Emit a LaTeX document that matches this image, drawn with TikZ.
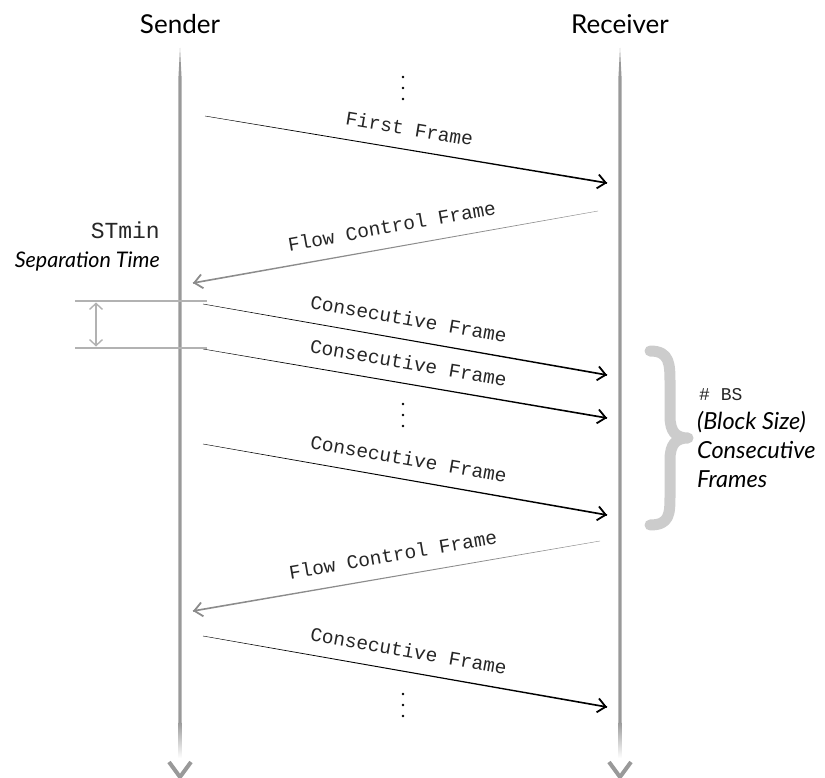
\documentclass[tikz,border=0pt]{standalone}
\usepackage{fontspec}
\setmainfont{Lato}
\setmonofont{Liberation Mono}
\usetikzlibrary{arrows.meta,calc}
\definecolor{lifegray}{gray}{0.6}
\definecolor{fcgray}{gray}{0.55}
\definecolor{sepgray}{gray}{0.7}
\definecolor{bracegray}{gray}{0.8}
\definecolor{monoink}{gray}{0.15}

% tapered message arrow: #1 start, #2 end, #3 colour, #4 label
\newcommand\sendmsg[4]{%
  \fill[#3] ($(#1)!0.2pt!-90:(#2)$) -- ($(#2)!0.85pt!90:(#1)$) -- ($(#2)!0.85pt!-90:(#1)$) -- ($(#1)!0.2pt!90:(#2)$) -- cycle;
  \draw[#3, line width=1.7pt, msgtip] ($(#2)!4pt!(#1)$) -- (#2);
  \path (#1) -- (#2) node[frametxt] {#4};
}
% vertical ellipsis dots centred at (x,y)
\newcommand\vdotsat[2]{%
  \foreach \dy in {-11,0,11} \fill (#1,#2+\dy) circle (1.3pt);
}
% one lifeline: #1 x position, #2 name prefix
\newcommand\lifeline[2]{%
  \coordinate (#2top) at (#1,48);
  \coordinate (#2end) at (#1,777);
  \fill[lifegray] (#2top) -- (#1-1.6,78) -- (#1-1.6,722) -- (#1+1.6,722) -- (#1+1.6,78) -- cycle;
  \shade[top color=lifegray, bottom color=white] (#1-1.6,722) rectangle (#1+1.6,758);
  \draw[lifegray, line width=4pt] (#1-11,762) -- (#2end) -- (#1+11,762);
}

\begin{document}
\begin{tikzpicture}[x=1pt, y=-1pt,
  head/.style={font=\fontsize{26}{30}\selectfont, inner sep=0pt},
  frametxt/.style={font=\ttfamily\fontsize{19.5}{23}\selectfont, text=monoink, sloped, above=14pt, midway, inner sep=0pt},
  msgtip/.style={-{Straight Barb[length=8pt,width=14pt,line width=1.8pt]}},
  septip/.style={{Straight Barb[length=6pt,width=13pt,line width=1.4pt]}-{Straight Barb[length=6pt,width=13pt,line width=1.4pt]}},
  sidemono/.style={font=\ttfamily\fontsize{23}{27}\selectfont, text=monoink, inner sep=0pt},
  sideital/.style={font=\itshape\fontsize{21.5}{26}\selectfont, inner sep=0pt},
  blockital/.style={font=\itshape\fontsize{23.5}{28}\selectfont, inner sep=0pt},
]
\useasboundingbox (0,0) rectangle (825,778);

% participants
\node[head] (sender) at (180,24) {Sender};
\node[head] (receiver) at (620,24) {Receiver};
\lifeline{180}{s}
\lifeline{620}{r}

% message end points
\coordinate (m1a) at (205,116);  \coordinate (m1b) at (607,183);
\coordinate (f1a) at (598,211);  \coordinate (f1b) at (193,283);
\coordinate (c1a) at (203,304);  \coordinate (c1b) at (607,375);
\coordinate (c2a) at (203,349);  \coordinate (c2b) at (607,418);
\coordinate (c3a) at (203,444);  \coordinate (c3b) at (607,515);
\coordinate (f2a) at (600,541);  \coordinate (f2b) at (193,611);
\coordinate (c4a) at (203,636);  \coordinate (c4b) at (607,707);

\vdotsat{403}{88}
\sendmsg{m1a}{m1b}{black}{First Frame}
\sendmsg{f1a}{f1b}{fcgray}{Flow Control Frame}
\sendmsg{c1a}{c1b}{black}{Consecutive Frame}
\sendmsg{c2a}{c2b}{black}{Consecutive Frame}
\vdotsat{403}{415}
\sendmsg{c3a}{c3b}{black}{Consecutive Frame}
\sendmsg{f2a}{f2b}{fcgray}{Flow Control Frame}
\sendmsg{c4a}{c4b}{black}{Consecutive Frame}
\vdotsat{403}{705}

% separation time marker
\coordinate (sep1l) at (75,301);  \coordinate (sep1r) at (207,301);
\coordinate (sep2l) at (75,348);  \coordinate (sep2r) at (207,348);
\draw[sepgray, line width=1.3pt] (sep1l) -- (sep1r);
\draw[sepgray, line width=1.3pt] (sep2l) -- (sep2r);
\coordinate (sepa) at (96,302.5);  \coordinate (sepb) at (96,346.5);
\draw[sepgray, line width=1.3pt, septip] (sepa) -- (sepb);
\node[sidemono, anchor=base east] (stmin) at (160,239) {STmin};
\node[sideital, anchor=base east] (septime) at (160,268) {Separation Time};

% block size brace
\draw[bracegray, line width=11pt, line cap=round, line join=round]
  (650,351) .. controls (670,351) and (670,364) .. (670,384) -- (670,416)
  .. controls (670,432) and (676,438) .. (688,438)
  .. controls (676,438) and (670,444) .. (670,460) -- (670,494)
  .. controls (670,514) and (670,525) .. (650,525);
\node[sidemono, font=\ttfamily\fontsize{18}{22}\selectfont, anchor=base west] (bs) at (699,400) {\# BS};
\node[blockital, anchor=base west] (bsize) at (697,429) {(Block Size)};
\node[blockital, anchor=base west] (consec) at (697,458) {Consecutive};
\node[blockital, anchor=base west] (frames) at (697,487) {Frames};
\end{tikzpicture}
\end{document}
